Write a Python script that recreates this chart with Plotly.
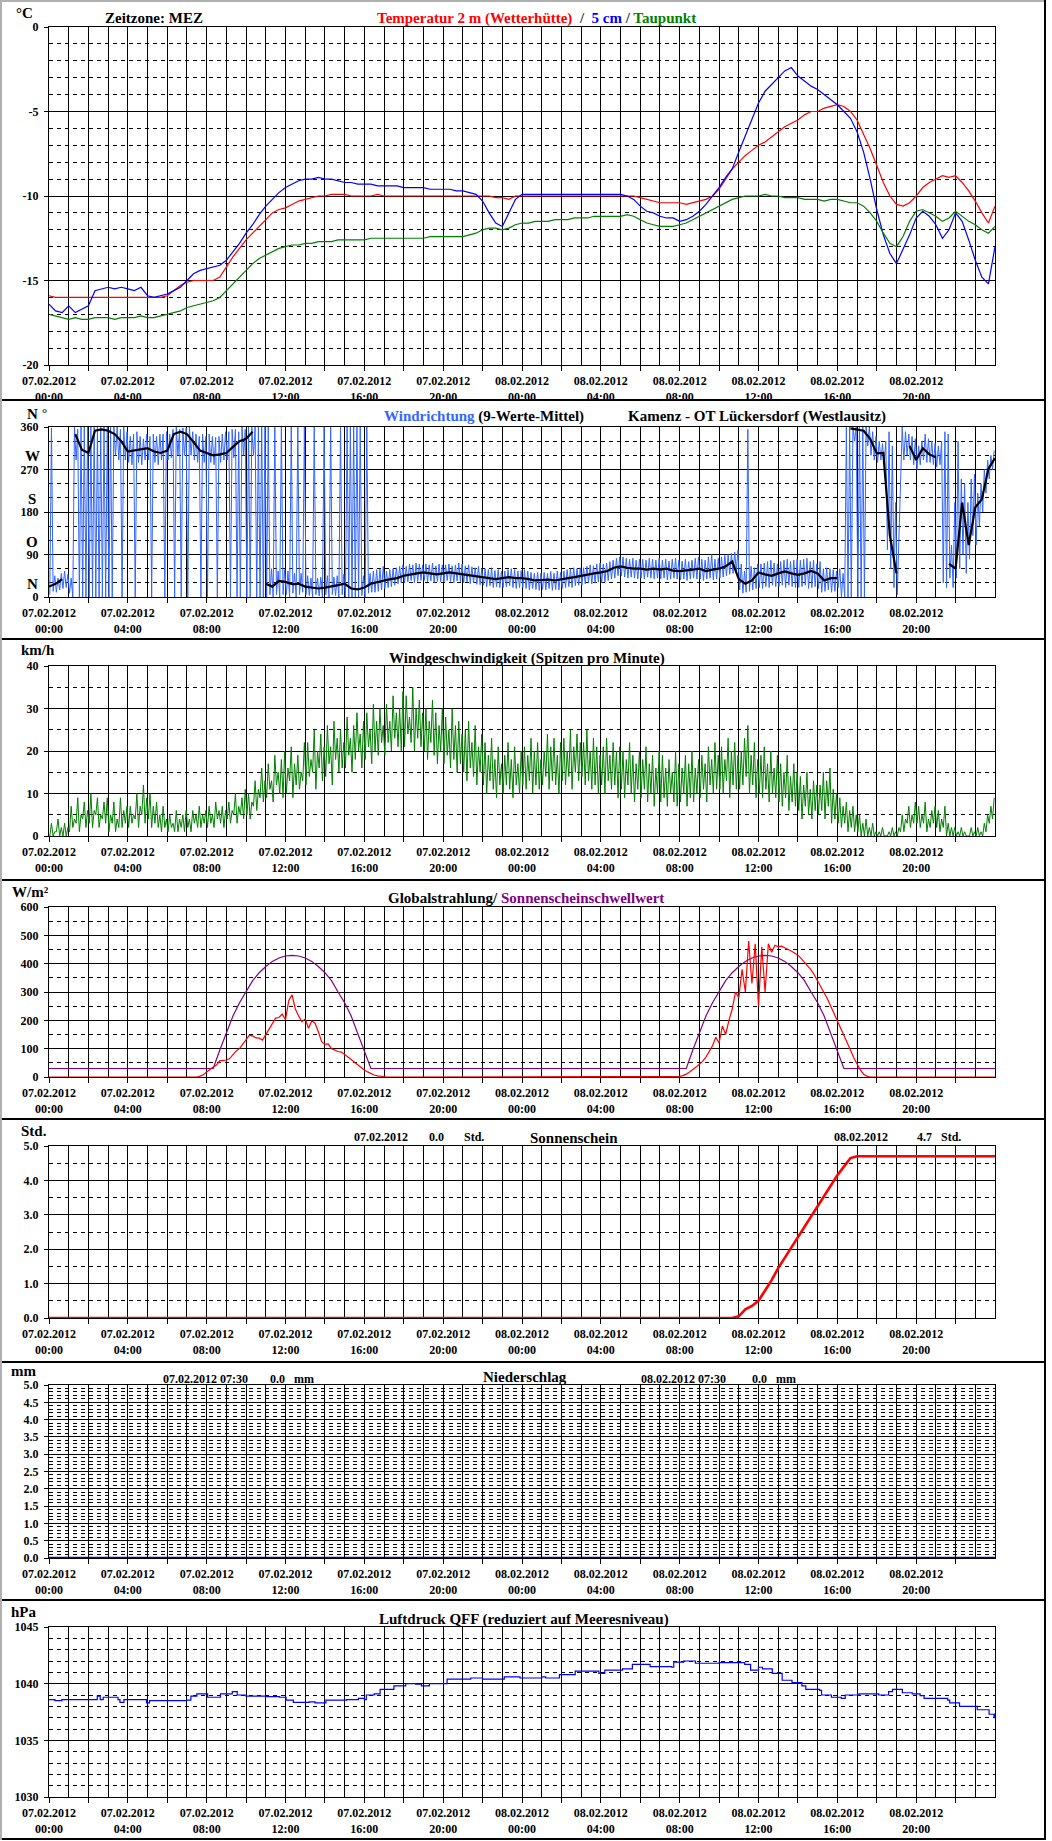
import plotly.graph_objects as go

# ======================= DATA =======================
# time axis: hours since 07.02.2012 00:00
x_tick_hours = [0, 4, 8, 12, 16, 20, 24, 28, 32, 36, 40, 44]
x_tick_labels = ["07.02.2012<br>00:00", "07.02.2012<br>04:00", "07.02.2012<br>08:00",
                 "07.02.2012<br>12:00", "07.02.2012<br>16:00", "07.02.2012<br>20:00",
                 "08.02.2012<br>00:00", "08.02.2012<br>04:00", "08.02.2012<br>08:00",
                 "08.02.2012<br>12:00", "08.02.2012<br>16:00", "08.02.2012<br>20:00"]

# temperatures, 20-minute values (3 per hour), 00:00 .. 48:00
temp_2m = [
    -15.9, -16.0, -16.0, -16.0, -16.0, -16.0, -16.0, -16.0, -16.0, -16.0, -16.0, -16.0,
    -16.0, -16.0, -16.0, -16.0, -16.0, -16.0, -15.9, -15.6, -15.3, -15.1, -15.0, -15.0,
    -15.0, -15.0, -14.8, -14.2, -13.6, -13.1, -12.6, -12.2, -11.8, -11.4, -11.0, -10.8,
    -10.7, -10.5, -10.3, -10.2, -10.1, -10.0, -10.0, -9.9, -9.9, -9.9, -10.0, -10.0,
    -10.0, -10.0, -9.9, -10.0, -10.0, -10.0, -10.0, -10.0, -10.0, -10.0, -10.0, -10.0,
    -10.0, -10.0, -10.0, -10.0, -10.0, -10.0, -10.0, -10.0, -10.1, -10.1, -10.2, -10.0,
    -10.0, -10.0, -10.0, -10.0, -10.0, -10.0, -10.0, -10.0, -10.0, -10.0, -10.0, -10.0,
    -10.0, -10.0, -10.0, -10.0, -10.0, -10.0, -10.1, -10.2, -10.3, -10.4, -10.4, -10.4,
    -10.4, -10.5, -10.4, -10.3, -10.2, -10.0, -9.6, -9.0, -8.4, -8.0, -7.6, -7.3,
    -7.0, -6.8, -6.5, -6.2, -5.9, -5.7, -5.5, -5.2, -5.0, -5.0, -4.8, -4.7,
    -4.6, -4.7, -5.0, -5.5, -6.3, -7.2, -8.2, -9.2, -10.0, -10.5, -10.6, -10.4,
    -10.0, -9.5, -9.2, -9.0, -8.8, -8.9, -8.8, -9.2, -9.7, -10.3, -11.0, -11.6,
    -10.6]
temp_5cm = [
    -16.4, -16.8, -16.9, -16.5, -16.9, -16.7, -16.5, -15.6, -15.5, -15.4, -15.5, -15.4,
    -15.5, -15.6, -15.4, -15.9, -16.0, -15.9, -15.8, -15.6, -15.4, -15.0, -14.6, -14.4,
    -14.3, -14.2, -14.1, -13.8, -13.3, -12.8, -12.2, -11.7, -11.1, -10.6, -10.2, -9.8,
    -9.5, -9.3, -9.1, -9.0, -9.0, -8.9, -9.0, -9.0, -9.1, -9.2, -9.2, -9.3,
    -9.3, -9.3, -9.4, -9.4, -9.4, -9.4, -9.5, -9.5, -9.5, -9.5, -9.6, -9.6,
    -9.6, -9.6, -9.7, -9.7, -9.8, -9.9, -10.3, -11.0, -11.6, -11.8, -11.0, -10.2,
    -9.9, -9.9, -9.9, -9.9, -9.9, -9.9, -9.9, -9.9, -9.9, -9.9, -9.9, -9.9,
    -9.9, -9.9, -9.9, -9.9, -10.0, -10.2, -10.6, -10.9, -11.0, -11.2, -11.3, -11.3,
    -11.5, -11.4, -11.2, -10.9, -10.5, -10.0, -9.5, -8.9, -8.4, -7.4, -6.4, -5.4,
    -4.5, -3.8, -3.4, -3.0, -2.6, -2.4, -2.9, -3.2, -3.5, -3.7, -4.0, -4.3,
    -4.6, -5.0, -5.4, -6.2, -7.4, -9.0, -10.8, -12.3, -13.4, -14.0, -13.2, -12.3,
    -11.3, -10.9, -11.2, -11.7, -12.5, -12.0, -11.0, -11.5, -12.6, -13.8, -14.8, -15.2,
    -13.0]
dew_point = [
    -17.0, -17.1, -17.2, -17.3, -17.2, -17.3, -17.3, -17.2, -17.2, -17.2, -17.3, -17.2,
    -17.2, -17.2, -17.1, -17.2, -17.2, -17.1, -17.0, -16.9, -16.8, -16.6, -16.5, -16.4,
    -16.3, -16.2, -16.0, -15.6, -15.2, -14.8, -14.4, -14.0, -13.7, -13.5, -13.3, -13.1,
    -13.0, -12.9, -12.9, -12.8, -12.8, -12.7, -12.7, -12.7, -12.6, -12.6, -12.6, -12.6,
    -12.6, -12.5, -12.5, -12.5, -12.5, -12.5, -12.5, -12.5, -12.5, -12.5, -12.4, -12.4,
    -12.4, -12.4, -12.4, -12.4, -12.3, -12.2, -12.0, -11.9, -11.9, -12.0, -11.9, -11.7,
    -11.6, -11.6, -11.5, -11.5, -11.5, -11.4, -11.4, -11.4, -11.3, -11.3, -11.3, -11.2,
    -11.2, -11.2, -11.2, -11.2, -11.1, -11.2, -11.4, -11.6, -11.7, -11.8, -11.8, -11.8,
    -11.7, -11.6, -11.4, -11.2, -11.0, -10.8, -10.6, -10.4, -10.2, -10.1, -10.0, -10.0,
    -10.0, -9.9, -10.0, -10.0, -10.1, -10.1, -10.1, -10.2, -10.2, -10.2, -10.3, -10.2,
    -10.2, -10.3, -10.4, -10.4, -10.6, -11.0, -11.5, -12.2, -12.8, -13.0, -12.4, -11.5,
    -10.9, -10.8, -11.0, -11.2, -11.5, -11.3, -10.9, -11.2, -11.5, -11.7, -12.0, -12.2,
    -11.8]

# wind direction: 10-minute minimum / maximum of the raw values (6 per hour)
wd_lo = [
    5, 12, 10, 15, 18, 20,   8, 0, 290, 0, 0, 0,   0, 0, 0, 0, 0, 0,
    0, 0, 300, 290, 0, 290,   285, 280, 0, 285, 280, 290,   290, 0, 285, 280, 290, 0,
    290, 295, 0, 300, 0, 300,   0, 300, 290, 285, 0, 285,   0, 285, 280, 0, 285, 290,
    290, 0, 295, 0, 0, 300,   0, 0, 300, 0, 0, 0,   0, 5, 0, 5, 0, 5,
    5, 0, 8, 0, 5, 10,   5, 3, 0, 5, 2, 0,   5, 0, 5, 3, 0, 5,
    0, 0, 0, 0, 0, 3,   0, 8, 10, 10, 12, 15,   18, 20, 22, 25, 28, 30,
    30, 32, 35, 30, 33, 35,   35, 32, 34, 30, 33, 32,   32, 35, 33, 30, 34, 32,
    30, 32, 28, 30, 27, 26,   25, 22, 24, 20, 22, 20,   20, 22, 24, 20, 18, 20,
    20, 18, 15, 18, 16, 14,   16, 15, 18, 14, 16, 15,   18, 20, 22, 20, 24, 25,
    25, 28, 30, 28, 30, 32,   30, 32, 35, 38, 40, 45,   45, 42, 40, 42, 40, 38,
    40, 38, 42, 40, 38, 40,   38, 40, 36, 38, 40, 38,   36, 38, 35, 38, 40, 38,
    38, 35, 38, 40, 36, 38,   40, 42, 45, 48, 50, 55,   15, 8, 10, 12, 15, 18,
    20, 18, 22, 20, 25, 22,   22, 25, 20, 25, 22, 20,   20, 22, 25, 18, 20, 22,
    18, 10, 12, 15, 10, 12,   20, 0, 0, 0, 0, 330,   0, 0, 0, 320, 300, 290,
    285, 290, 280, 100, 60, 20,   5, 280, 290, 300, 290, 280,   270, 280, 290, 285, 285, 280,
    275, 280, 30, 20, 40, 20,   40, 60, 90, 50, 80, 130,   110, 150, 180, 220, 250, 270]
wd_hi = [
    358, 45, 40, 50, 55, 48,   40, 360, 355, 360, 360, 360,   360, 360, 360, 360, 360, 360,
    360, 360, 360, 355, 360, 350,   340, 345, 350, 340, 335, 345,   340, 345, 340, 345, 345, 350,
    345, 355, 360, 355, 358, 358,   360, 350, 345, 340, 345, 340,   345, 340, 338, 340, 345, 350,
    350, 355, 355, 350, 360, 355,   360, 360, 360, 360, 360, 360,   360, 60, 360, 55, 360, 58,
    55, 360, 50, 360, 50, 360,   45, 40, 360, 40, 42, 360,   45, 360, 42, 45, 360, 48,
    360, 360, 360, 360, 360, 45,   360, 50, 55, 58, 60, 65,   55, 58, 60, 62, 65, 68,
    65, 70, 68, 72, 70, 68,   70, 68, 72, 66, 70, 68,   68, 70, 66, 68, 72, 70,
    66, 68, 64, 62, 65, 60,   60, 58, 62, 56, 58, 55,   55, 58, 60, 58, 55, 56,
    58, 55, 52, 50, 52, 50,   52, 50, 54, 50, 55, 52,   55, 58, 60, 62, 60, 62,
    62, 65, 68, 66, 70, 72,   70, 72, 75, 78, 82, 85,   85, 82, 80, 82, 78, 80,
    80, 78, 82, 80, 78, 82,   78, 80, 76, 80, 82, 78,   76, 80, 75, 78, 82, 85,
    80, 78, 85, 90, 80, 82,   85, 88, 90, 92, 95, 100,   70, 55, 355, 65, 62, 70,
    70, 72, 75, 78, 72, 70,   75, 78, 80, 75, 78, 80,   78, 80, 82, 75, 78, 70,
    75, 60, 62, 60, 58, 55,   60, 50, 360, 360, 360, 360,   360, 360, 360, 360, 350, 340,
    330, 325, 330, 350, 320, 200,   130, 360, 350, 345, 340, 335,   320, 330, 345, 335, 330, 325,
    320, 330, 350, 345, 110, 200,   330, 250, 240, 200, 250, 260,   220, 240, 270, 290, 300, 310]

# wind direction, 9-value running mean, 20-minute values (None = wrap-around gap)
wd_mean = [
    22, 28, 38, None, 345, 312, 305, 352, 355, 352, 345, 330,
    308, 310, 312, 315, 308, 305, 310, 345, 350, 345, 328, 310,
    305, 300, 302, 305, 318, 330, 335, 350, None, 28, 22, 34,
    32, 27, 28, 22, 20, 18, 20, 22, 25, 28, 18, 16,
    20, 28, 32, 35, 38, 40, 45, 48, 50, 52, 50, 48,
    50, 52, 50, 48, 46, 45, 42, 40, 38, 40, 42, 40,
    40, 38, 35, 36, 37, 35, 38, 40, 42, 45, 47, 50,
    52, 55, 62, 65, 62, 60, 60, 58, 60, 58, 60, 56,
    55, 56, 58, 60, 55, 58, 60, 65, 75, 38, 28, 35,
    52, 48, 45, 50, 54, 50, 47, 50, 55, 50, 35, 40,
    40, None, 357, 355, 352, 335, 304, 305, 130, 50, None, 320,
    290, 315, 302, 296, None, 70, 60, 200, 110, 190, 207, 272,
    294]

# wind speed (peaks per minute), 10-minute minimum / maximum, km/h
ws_lo = [
    0, 0, 1, 0, 0, 0,   1, 2, 3, 1, 4, 2,   3, 2, 5, 2, 4, 3,   1, 3, 1, 2, 2, 3,
    2, 3, 4, 2, 5, 3,   4, 2, 3, 2, 1, 2,   1, 2, 1, 1, 2, 1,   2, 1, 3, 2, 2, 3,
    2, 3, 2, 4, 3, 2,   4, 3, 5, 3, 5, 4,   5, 4, 7, 6, 9, 8,   9, 11, 8, 12, 10, 9,
    10, 13, 9, 12, 11, 13,   12, 14, 15, 11, 16, 13,   14, 17, 12, 18, 15, 16,   16, 19, 15, 18, 20, 16,
    18, 21, 17, 20, 19, 22,   19, 22, 20, 23, 21, 20,   21, 24, 22, 20, 23, 21,   20, 18, 22, 19, 17, 20,
    17, 19, 16, 18, 15, 17,   15, 13, 16, 14, 12, 15,   12, 10, 13, 11, 9, 12,   10, 12, 11, 9, 12, 10,
    12, 11, 13, 10, 12, 11,   12, 14, 11, 13, 12, 10,   13, 12, 14, 11, 15, 13,   14, 12, 13, 11, 12, 10,
    12, 10, 13, 11, 12, 9,   11, 9, 12, 10, 8, 11,   9, 11, 8, 10, 7, 10,   8, 9, 7, 10, 8, 7,
    8, 10, 7, 9, 8, 10,   9, 11, 8, 12, 10, 11,   11, 10, 13, 9, 12, 11,   11, 12, 14, 10, 12, 9,
    10, 9, 11, 8, 10, 9,   8, 7, 9, 6, 8, 7,   6, 4, 7, 5, 4, 6,   5, 6, 4, 7, 3, 4,
    3, 2, 3, 1, 2, 1,   1, 0, 0, 0, 0, 0,   0, 0, 0, 0, 0, 0,   0, 1, 1, 3, 2, 3,
    3, 2, 3, 1, 2, 3,   2, 1, 2, 0, 0, 0,   0, 0, 0, 0, 0, 0,   0, 0, 0, 1, 3, 4]
ws_hi = [
    3, 1, 4, 2, 3, 2,   7, 4, 9, 5, 8, 6,   10, 6, 9, 5, 8, 9,   5, 8, 4, 9, 6, 7,
    7, 5, 10, 7, 12, 9,   10, 7, 8, 5, 7, 4,   5, 3, 6, 4, 5, 6,   4, 6, 5, 7, 5, 6,
    7, 5, 8, 6, 7, 6,   8, 6, 10, 7, 9, 11,   10, 8, 13, 11, 16, 13,   17, 13, 19, 15, 18, 20,
    16, 21, 17, 19, 15, 22,   22, 18, 25, 20, 24, 21,   26, 21, 27, 23, 25, 22,   28, 23, 26, 29, 24, 27,
    29, 25, 31, 27, 30, 26,   31, 27, 33, 29, 30, 34,   33, 28, 35, 30, 32, 29,   30, 27, 32, 29, 26, 30,
    28, 25, 30, 26, 27, 24,   25, 27, 22, 26, 21, 24,   22, 19, 23, 18, 21, 17,   19, 22, 18, 21, 17, 20,
    21, 19, 23, 20, 22, 18,   20, 24, 21, 23, 19, 22,   23, 20, 25, 21, 24, 22,   22, 25, 20, 23, 21, 19,
    21, 23, 19, 22, 20, 21,   20, 18, 22, 19, 17, 20,   18, 21, 17, 19, 16, 20,   19, 16, 18, 15, 20, 17,
    16, 19, 17, 20, 16, 18,   19, 17, 21, 18, 22, 19,   21, 18, 23, 20, 22, 19,   20, 23, 26, 19, 22, 18,
    19, 21, 17, 20, 16, 19,   17, 15, 19, 14, 17, 15,   14, 12, 15, 11, 13, 12,   12, 15, 13, 16, 11, 10,
    9, 7, 8, 6, 7, 5,   5, 3, 4, 2, 3, 1,   1, 2, 0, 1, 2, 1,   2, 5, 4, 7, 5, 8,
    7, 5, 8, 4, 6, 7,   6, 4, 7, 3, 2, 2,   1, 2, 1, 0, 2, 1,   2, 1, 3, 5, 7, 9]

# global radiation, 10-minute values, W/m2 (00:00 .. 48:00)
radiation = ([0] * 45 + [
    0, 3, 8, 18, 28, 35, 42, 58, 58, 60, 65, 80, 92, 100, 118,
    132, 148, 145, 138, 137, 130, 150, 170, 185, 208, 210, 222,
    202, 270, 290, 240, 215, 195, 205, 172, 198, 190, 160, 125,
    115, 117, 100, 95, 90, 88, 80, 70, 62, 52, 42, 35,
    25, 18, 12, 7, 4, 2, 0] + [0] * 89 + [
    2, 5, 10, 18, 25, 35, 45, 55, 70, 90, 110, 140,
    120, 180, 150, 200, 240, 300, 280, 380, 300, 480, 330, 470,
    250, 460, 300, 470, 440, 465, 460, 462, 455, 450, 445, 438,
    430, 418, 405, 392, 378, 360, 340, 320, 298, 275, 250, 225,
    200, 175, 148, 120, 95, 68, 45, 25, 10, 3, 0] + [0] * 38)

# sunshine threshold, 20-minute values, W/m2
sun_threshold = ([30] * 25 + [
    30, 95, 155, 215, 262, 300, 340, 368, 390, 408, 420, 427, 429,
    427, 420, 408, 390, 368, 340, 300, 262, 215, 155, 95, 30] + [30] * 47 + [
    30, 95, 155, 215, 262, 300, 340, 368, 390, 408, 420, 427, 429,
    427, 420, 408, 390, 368, 340, 300, 262, 215, 155, 95, 30] + [30] * 23)

# accumulated sunshine duration, 20-minute values, hours
sunshine = ([0.0] * 105 + [
    0.05, 0.25, 0.35, 0.5, 0.8, 1.1, 1.45, 1.75, 2.05, 2.35, 2.65, 2.95,
    3.25, 3.55, 3.85, 4.15, 4.4, 4.65] + [4.7] * 22)

# precipitation, hourly, mm
precip = [0.0] * 49

# air pressure QFF (times in hours, hPa)
pres_hours = [0, 0.3, 0.65, 2.4, 2.45, 2.6, 2.75, 3.5, 3.6, 3.8, 4.8, 4.95, 5.1, 6.0, 6.98, 7.2,
              7.5, 8.05, 8.5, 8.7, 9.3, 9.55, 10.0, 11.05, 11.7, 12.03, 12.4, 13.2, 13.5, 14.0,
              14.05, 15.1, 15.7, 16.0, 16.1, 16.5, 16.8, 17.3, 17.5, 18.1, 18.6, 18.9, 19.3,
              19.9, 20.2, 21.0, 21.4, 22.0, 22.9, 23.1, 23.9, 25.0, 25.2, 25.9, 26.7, 27.2,
              27.9, 28.2, 29.1, 29.6, 30.1, 30.5, 31.6, 31.7, 32.2, 32.8, 34.0, 35.3, 35.6,
              36.0, 36.2, 36.7, 37.2, 37.7, 38.2, 38.4, 39.1, 39.2, 39.7, 40.2, 40.4, 41.1,
              41.8, 42.1, 42.6, 42.8, 43.3, 43.8, 44.2, 44.4, 45.6, 45.7, 46.2, 47.0, 47.1,
              47.7, 47.95, 48.0]
pres_values = [1038.6, 1038.5, 1038.6, 1038.6, 1038.9, 1038.6, 1038.8, 1038.6, 1038.35, 1038.6,
               1038.6, 1038.3, 1038.5, 1038.5, 1038.55, 1038.9, 1039.1, 1038.8, 1038.8, 1039.1,
               1039.3, 1039.0, 1038.9, 1038.85, 1038.8, 1038.55, 1038.35, 1038.4, 1038.3, 1038.3,
               1038.55, 1038.6, 1038.7, 1038.6, 1039.0, 1039.1, 1039.5, 1039.5, 1039.8, 1040.0,
               1039.95, 1039.8, 1040.0, 1040.0, 1040.4, 1040.4, 1040.5, 1040.4, 1040.4, 1040.6,
               1040.5, 1040.6, 1040.5, 1040.8, 1041.1, 1041.1, 1040.9, 1041.2, 1041.3, 1041.7,
               1041.7, 1041.5, 1041.45, 1041.9, 1042.0, 1041.8, 1041.85, 1041.7, 1041.2, 1041.45,
               1041.3, 1040.9, 1040.3, 1040.1, 1039.8, 1039.5, 1039.4, 1039.0, 1038.8, 1038.7,
               1039.0, 1039.1, 1039.1, 1039.0, 1039.3, 1039.5, 1039.2, 1039.1, 1038.95, 1038.7,
               1038.55, 1038.3, 1038.0, 1038.0, 1037.7, 1037.3, 1037.0, 1037.4]

for name, arr, n in [("temp_2m", temp_2m, 145), ("temp_5cm", temp_5cm, 145), ("dew_point", dew_point, 145),
                     ("wd_lo", wd_lo, 288), ("wd_hi", wd_hi, 288), ("wd_mean", wd_mean, 145),
                     ("ws_lo", ws_lo, 288), ("ws_hi", ws_hi, 288), ("radiation", radiation, 289),
                     ("sun_threshold", sun_threshold, 145), ("sunshine", sunshine, 145)]:
    assert len(arr) == n, f"{name}: {len(arr)} != {n}"
assert len(pres_hours) == len(pres_values), (len(pres_hours), len(pres_values))

# ======================= FIGURE =======================
FW, FH = 1052, 1841
t20 = [i / 3 for i in range(145)]
t10 = [i / 6 for i in range(289)]
t60 = list(range(49))


def minmax_path(lo, hi, step):
    xs, ys = [], []
    for i, (a, b) in enumerate(zip(lo, hi)):
        xs += [i * step + step * 0.25, i * step + step * 0.75]
        ys += [a, b]
    return xs, ys


fig = go.Figure()

def add(x, y, n, color, width=1.2, shape="linear"):
    fig.add_trace(go.Scatter(x=x, y=y, mode="lines", xaxis=f"x{n}" if n > 1 else "x",
                             yaxis=f"y{n}" if n > 1 else "y", connectgaps=False,
                             line=dict(color=color, width=width, shape=shape),
                             hoverinfo="skip", showlegend=False))

# panel 1 temperature
add(t20, temp_2m, 1, "#ff0000")
add(t20, temp_5cm, 1, "#0000ff")
add(t20, dew_point, 1, "#008000")
# panel 2 wind direction
wx, wy = minmax_path(wd_lo, wd_hi, 1 / 6)
add(wx, wy, 2, "#3366ff", 1)
add(t20, wd_mean, 2, "#000000", 2.2)
# panel 3 wind speed
sx, sy = minmax_path(ws_lo, ws_hi, 1 / 6)
add(sx, sy, 3, "#008000", 1)
# panel 4 radiation
add(t20, sun_threshold, 4, "#800080", 1.2)
add(t10, radiation, 4, "#ff0000", 1.2)
# panel 5 sunshine
add(t20, sunshine, 5, "#ff0000", 2.6)
# panel 6 precipitation
add(t60, precip, 6, "#0000cc", 2.5)
# panel 7 pressure
add(pres_hours, pres_values, 7, "#0000ff", 1.2, "hv")

# pixel layout
X0, X1 = 49, 995
panels = [(27, 365), (427, 597), (666, 836), (907, 1077), (1146, 1318), (1385, 1558), (1627, 1797)]
yspecs = [
    dict(range=[-20, 0], tickvals=[0, -5, -10, -15, -20], ticktext=["0", "-5", "-10", "-15", "-20"], minor=1),
    dict(range=[0, 360], tickvals=[0, 90, 180, 270, 360], ticktext=["0", "90", "180", "270", "360"], minor=30),
    dict(range=[0, 40], tickvals=[0, 10, 20, 30, 40], ticktext=["0", "10", "20", "30", "40"], minor=5),
    dict(range=[0, 600], tickvals=[0, 100, 200, 300, 400, 500, 600],
         ticktext=["0", "100", "200", "300", "400", "500", "600"], minor=50),
    dict(range=[0, 5], tickvals=[0, 1, 2, 3, 4, 5], ticktext=["0.0", "1.0", "2.0", "3.0", "4.0", "5.0"], minor=0.5),
    dict(range=[0, 5], tickvals=[0, 0.5, 1, 1.5, 2, 2.5, 3, 3.5, 4, 4.5, 5],
         ticktext=["0.0", "0.5", "1.0", "1.5", "2.0", "2.5", "3.0", "3.5", "4.0", "4.5", "5.0"], minor=0.1),
    dict(range=[1030, 1045], tickvals=[1030, 1035, 1040, 1045], ticktext=["1030", "1035", "1040", "1045"], minor=1),
]

tickfont = dict(family="Liberation Serif", size=12, color="black", weight="bold")
xt_vals = list(range(0, 48, 2))
xt_text = [x_tick_labels[x_tick_hours.index(v)] if v in x_tick_hours else "" for v in xt_vals]

layout = dict(width=FW, height=FH, margin=dict(l=0, r=0, t=0, b=0, pad=0),
              paper_bgcolor="white", plot_bgcolor="white", template="none", showlegend=False,
              font=dict(family="Liberation Serif", size=12, color="black"))

for i, ((top, bot), ys) in enumerate(zip(panels, yspecs)):
    n = i + 1
    xk = "xaxis" if n == 1 else f"xaxis{n}"
    yk = "yaxis" if n == 1 else f"yaxis{n}"
    layout[xk] = dict(domain=[X0 / FW, X1 / FW], range=[0, 48], anchor="y" if n == 1 else f"y{n}",
                      tickmode="array", tickvals=xt_vals, ticktext=xt_text, tickfont=tickfont,
                      ticks="outside", ticklen=5, tickcolor="black", tickwidth=1,
                      showgrid=True, gridcolor="black", gridwidth=1, zeroline=False,
                      showline=True, mirror=True, linecolor="black", linewidth=1, automargin=False,
                      minor=dict(tickmode="linear", tick0=0, dtick=1, showgrid=True, gridcolor="black",
                                 gridwidth=1, ticks=""),
                      fixedrange=True)
    layout[yk] = dict(domain=[1 - bot / FH, 1 - top / FH], range=ys["range"], anchor="x" if n == 1 else f"x{n}",
                      tickmode="array", tickvals=ys["tickvals"], ticktext=ys["ticktext"], tickfont=tickfont,
                      ticks="outside", ticklen=4, tickcolor="black", tickwidth=1, ticklabelstandoff=3,
                      showgrid=True, gridcolor="black", gridwidth=1, zeroline=False,
                      showline=True, mirror=True, linecolor="black", linewidth=1, automargin=False,
                      minor=dict(tickmode="linear", tick0=ys["range"][0], dtick=ys["minor"], showgrid=True,
                                 gridcolor="black", gridwidth=1, griddash="4px,4px", ticks=""),
                      fixedrange=True)

fig.update_layout(**layout)


def px(x, y):
    return x / FW, 1 - y / FH


anns = []

def txt(text, x, y, size=15, color="black", xanchor="left"):
    ax, ay = px(x, y)
    anns.append(dict(text=text, x=ax, y=ay, xref="paper", yref="paper", xanchor=xanchor, yanchor="middle",
                     showarrow=False, font=dict(family="Liberation Serif", size=size, color=color, weight="bold")))

# panel 1
txt("°C", 14, 13)
txt("Zeitzone: MEZ", 103, 18)
txt('<span style="color:#ff0000">Temperatur 2 m (Wetterhütte)</span>'
    '<span style="color:#333333">  /  </span><span style="color:#0000ff">5 cm</span>'
    '<span style="color:#333333"> / </span><span style="color:#008000">Taupunkt</span>', 375, 18)
# panel 2
txt('<span style="color:#3366ff">Windrichtung</span> (9-Werte-Mittel)', 382, 416)
txt("Kamenz - OT Lückersdorf (Westlausitz)", 626, 416)
for lab, v in [("N", 0), ("O", 90), ("S", 180), ("W", 270), ("N", 360)]:
    anns.append(dict(text=lab, x=32 / FW, y=v, xref="paper", yref="y2", xanchor="center", yanchor="middle",
                     yshift=13, showarrow=False,
                     font=dict(family="Liberation Serif", size=15, color="black", weight="bold")))
txt("°", 40, 412, size=13)
# panel 3
txt("km/h", 19, 650)
txt("Windgeschwindigkeit (Spitzen pro Minute)", 387, 659)
# panel 4
txt("W/m²", 10, 892)
txt('Globalstrahlung/ <span style="color:#800080">Sonnenscheinschwellwert</span>', 386, 898)
# panel 5
txt("Std.", 19, 1131)
txt("07.02.2012", 352, 1137, size=12)
txt("0.0", 427, 1137, size=12)
txt("Std.", 462, 1137, size=12)
txt("Sonnenschein", 528, 1138)
txt("08.02.2012", 832, 1137, size=12)
txt("4.7", 915, 1137, size=12)
txt("Std.", 939, 1137, size=12)
# panel 6
txt("mm", 9, 1371)
txt("07.02.2012 07:30", 161, 1379, size=12)
txt("0.0", 268, 1379, size=12)
txt("mm", 292, 1379, size=12)
txt("Niederschlag", 481, 1377)
txt("08.02.2012 07:30", 639, 1379, size=12)
txt("0.0", 750, 1379, size=12)
txt("mm", 774, 1379, size=12)
# panel 7
txt("hPa", 9, 1612)
txt("Luftdruck QFF (reduziert auf Meeresniveau)", 377, 1619)

shapes = []
def hline(y, color="black", w=2, x0=0, x1=1045):
    shapes.append(dict(type="line", xref="paper", yref="paper", x0=x0 / FW, x1=x1 / FW,
                       y0=1 - y / FH, y1=1 - y / FH, line=dict(color=color, width=w)))
def vline(x, color="black", w=2, y0=0, y1=1840):
    shapes.append(dict(type="line", xref="paper", yref="paper", x0=x / FW, x1=x / FW,
                       y0=1 - y0 / FH, y1=1 - y1 / FH, line=dict(color=color, width=w)))

for y in [400, 639, 880, 1119, 1362, 1600]:
    hline(y)
hline(1839)
hline(1, color="#b0b0b0", w=2)
vline(1, color="#b0b0b0", w=2)
vline(1045)

fig.update_layout(annotations=anns, shapes=shapes)
fig.write_html("out.html",
               config={"displayModeBar": False, "staticPlot": True},
               post_script="document.body.style.margin='0px';document.body.style.padding='0px';"
                           "document.body.style.overflow='hidden';")
